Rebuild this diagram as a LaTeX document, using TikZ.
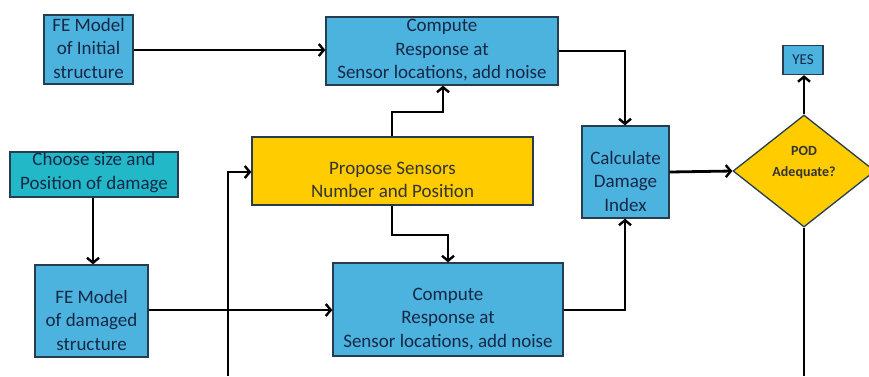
\documentclass[tikz,border=0pt]{standalone}
\usepackage{fontspec}
\setmainfont{Carlito}
\usetikzlibrary{arrows.meta,shapes.geometric}
\definecolor{boxblue}{RGB}{76,178,222}
\definecolor{boxteal}{RGB}{34,184,200}
\definecolor{boxgold}{RGB}{255,204,0}
\definecolor{txtnavy}{RGB}{22,40,70}
\definecolor{edgedark}{RGB}{40,60,80}
\tikzset{
  box/.style={draw=edgedark, line width=1.3pt, fill=boxblue, inner sep=0pt},
  tealbox/.style={box, fill=boxteal},
  goldbox/.style={box, fill=boxgold},
  lbl/.style={text=txtnavy, align=center, inner sep=0pt, font=\fontsize{19}{23.5}\selectfont},
  goldlbl/.style={lbl, text=black!80},
  decision/.style={diamond, draw=edgedark, line width=1.3pt, fill=boxgold, inner sep=0pt, aspect=1.27},
  declbl/.style={text=black!80, align=center, inner sep=0pt, font=\fontsize{14}{21}\selectfont\bfseries},
  conn/.style={line width=2.8pt, -{Straight Barb[length=5pt,width=12pt,line width=2.4pt]}},
  plain/.style={line width=2.8pt},
}
\begin{document}
\begin{tikzpicture}[x=1pt,y=-1pt]
\clip (0,0) rectangle (869,376);
\fill[white] (0,0) rectangle (869,376);

\node[box, minimum width=89pt, minimum height=69pt,
  label={[lbl, yshift=1.5pt]center:FE Model\\of Initial\\structure}] (feinit) at (88.5,49.5) {};
\node[box, minimum width=232pt, minimum height=68pt,
  label={[lbl, yshift=0.5pt]center:Compute\\Response at\\Sensor locations, add noise}] (comptop) at (442,51) {};
\node[goldbox, minimum width=281pt, minimum height=68pt,
  label={[goldlbl, yshift=-9pt]center:Propose Sensors\\Number and Position}] (prop) at (392.5,171) {};
\node[tealbox, minimum width=168pt, minimum height=45pt,
  label={[lbl, yshift=2pt]center:Choose size and\\Position of damage}] (choose) at (94,174.5) {};
\node[box, minimum width=113pt, minimum height=92pt,
  label={[lbl, yshift=-9pt]center:FE Model\\of damaged\\structure}] (fedam) at (91.5,311) {};
\node[box, minimum width=230pt, minimum height=93pt,
  label={[lbl, yshift=-9.5pt]center:Compute\\Response at\\Sensor locations, add noise}] (compbot) at (448,309.5) {};
\node[box, minimum width=87pt, minimum height=92pt,
  label={[lbl, yshift=-9pt]center:Calculate\\Damage\\Index}] (calc) at (625.5,172) {};
\node[decision, minimum width=142pt, minimum height=112pt,
  label={[declbl, yshift=8.5pt]center:POD\\Adequate?}] (pod) at (804,171) {};
\node[box, minimum width=40pt, minimum height=29pt,
  label={[lbl, font=\fontsize{15}{17}\selectfont]center:YES}] (yes) at (803,60) {};

\coordinate (loopbot) at (228,376);
\coordinate (podbot) at (804,376);

\draw[conn] (feinit.east |- 0,50) -- (comptop.west |- 0,50);
\draw[conn] (prop.north -| 392,0) -- (392,112) -- (443,112) -- (comptop.south -| 443,0);
\draw[conn] (prop.south -| 392,0) -- (392,235) -- (448,235) -- (compbot.north -| 448,0);
\draw[conn] (choose.south -| 93,0) -- (fedam.north -| 93,0);
\draw[conn] (fedam.east |- 0,310) -- (compbot.west |- 0,310);
\draw[conn] (loopbot) -- (228,172) -- (prop.west |- 0,172);
\draw[conn] (comptop.east |- 0,51) -- (625,51) -- (calc.north -| 625,0);
\draw[conn] (compbot.east |- 0,310) -- (625,310) -- (calc.south -| 625,0);
\draw[conn] (calc.east |- 0,172) -- (pod.west);
\draw[conn] (pod.north) -- (yes.south -| pod.north);
\draw[plain] (pod.south) -- (podbot);
\end{tikzpicture}
\end{document}
